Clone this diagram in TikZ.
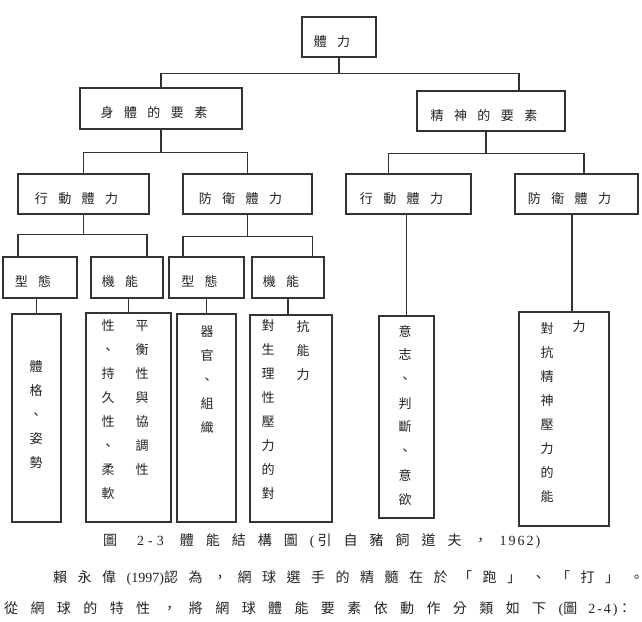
\documentclass[tikz,border=0pt]{standalone}
\usepackage{fontspec}
\setmainfont{Liberation Serif}
\newfontfamily\cjk{Noto Sans CJK TC}
\usetikzlibrary{positioning,calc}
\def\wLine{1.1pt}
\definecolor{cInk}{HTML}{333333}
\definecolor{cText}{HTML}{222222}
\makeatletter
\newcommand{\spaced}[2]{\@tfor\spch:=#2\do{\spch\kern#1}}
\makeatother
\newcommand{\zh}[2][11pt]{{\cjk\spaced{#1}{#2}}}
\newcommand{\lat}[2][2pt]{{\spaced{#1}{#2}}}
\tikzset{
  box/.style={draw=cInk, line width=\wLine, fill=white, inner sep=0pt,
    font=\cjk\addfontfeature{LetterSpace=80}\fontsize{13}{13}\selectfont, text=cText,
    text height=20pt, text depth=2pt, execute at end node=\hspace*{14pt}},
  head/.style={box, minimum height=40pt},
  leaf/.style={draw=cInk, line width=\wLine, fill=white, inner sep=0pt},
  vcol/.style={font=\cjk\fontsize{13}{24}\selectfont, text=cText, align=center, inner sep=0pt},
  link/.style={draw=cInk, line width=\wLine},
  capt/.style={font=\rmfamily\fontsize{14}{14}\selectfont, text=cText, anchor=west, inner sep=0pt},
}

\begin{document}
\begin{tikzpicture}[x=1pt, y=-1pt]
\useasboundingbox (0,0) rectangle (642,621);
% top of the tree and the two kinds of elements
\node[head, minimum width=74pt] (strength) at (339,37) {體力};
\node[head, minimum width=162pt, minimum height=41pt] (body) at (161,108.5) {身體的要素};
\node[head, minimum width=148pt] (spirit) at (491,111) {精神的要素};
% action / defence strength
\node[head, minimum width=131pt] (act1) at (83.5,194) {行動體力};
\node[head, minimum width=129pt] (def1) at (247.5,194) {防衛體力};
\node[head, minimum width=125pt] (act2) at (408.5,194) {行動體力};
\node[head, minimum width=123pt] (def2) at (576.5,194) {防衛體力};
% form / function
\node[head, minimum width=74pt, minimum height=41pt] (form1) at (40,277.5) {型態};
\node[head, minimum width=72pt, minimum height=41pt] (func1) at (127,277.5) {機能};
\node[head, minimum width=75pt, minimum height=41pt] (form2) at (206.5,277.5) {型態};
\node[head, minimum width=72pt, minimum height=41pt] (func2) at (288,277.5) {機能};
% leaves
\node[leaf, minimum width=49pt, minimum height=208pt] (leaf1) at (36.5,418) {};
\node[leaf, minimum width=85pt, minimum height=209pt] (leaf2) at (128.5,417.5) {};
\node[leaf, minimum width=59pt, minimum height=208pt] (leaf3) at (206.5,418) {};
\node[leaf, minimum width=82pt, minimum height=207pt] (leaf4) at (291,418.5) {};
\node[leaf, minimum width=55pt, minimum height=202pt] (leaf5) at (406.5,417) {};
\node[leaf, minimum width=90pt, minimum height=214pt] (leaf6) at (564,419) {};
% vertical texts
\node[vcol] (t1) at (36,415) {體\\格\\、\\姿\\勢};
\node[vcol] (t2a) at (108,410) {性\\、\\持\\久\\性\\、\\柔\\軟};
\node[vcol] (t2b) at (142,398) {平\\衡\\性\\與\\協\\調\\性};
\node[vcol] (t3) at (207,380) {器\\官\\、\\組\\織};
\node[vcol] (t4a) at (268,410) {對\\生\\理\\性\\壓\\力\\的\\對};
\node[vcol] (t4b) at (303,351) {抗\\能\\力};
\node[vcol] (t5) at (405,415) {意\\志\\、\\判\\斷\\、\\意\\欲};
\node[vcol] (t6a) at (547,413) {對\\抗\\精\\神\\壓\\力\\的\\能};
\node[vcol] (t6b) at (579,327) {力};
% connectors
\draw[link] (strength.south) -- ++(0,16) coordinate (busTop);
\draw[link] (body.north) |- (busTop) -| ([xshift=28pt]spirit.north);
\draw[link] (body.south) -- ++(0,23) coordinate (busBody);
\draw[link] (act1.north) |- (busBody) -| (def1.north);
\draw[link] ([xshift=-5pt]spirit.south) -- ++(0,22) coordinate (busSpirit);
\draw[link] ([xshift=-20pt]act2.north) |- (busSpirit) -| ([xshift=7.5pt]def2.north);
\draw[link] (act1.south) -- ++(0,20) coordinate (busAct);
\draw[link] ([xshift=-22pt]form1.north) |- (busAct) -| ([xshift=20pt]func1.north);
\draw[link] (def1.south) -- ++(0,22) coordinate (busDef);
\draw[link] ([xshift=-23.5pt]form2.north) |- (busDef) -| ([xshift=24.5pt]func2.north);
\draw[link] (leaf1.north) -- (leaf1.north |- form1.south);
\draw[link] (leaf2.north) -- (leaf2.north |- func1.south);
\draw[link] (leaf3.north) -- (leaf3.north |- form2.south);
\draw[link] (func2.south) -- (func2.south |- leaf4.north);
\draw[link] (leaf5.north) -- (leaf5.north |- act2.south);
\draw[link] ([xshift=8pt]leaf6.north) -- ([xshift=8pt]leaf6.north |- def2.south);
% caption and text below
\node[capt] (caption) at (103,541) {\zh[12pt]{圖}\hspace*{8pt}\lat[4pt]{2-3}\hspace*{12pt}\zh[12pt]{體能結構圖}\lat[3pt]{(}\zh[12pt]{引自豬飼道夫，}\lat[2pt]{1962)}};
\node[capt] (line1) at (53,578) {\zh[10.5pt]{賴永偉}(1997)\zh[10.5pt]{認為，網球選手的精髓在於「跑」、「打」。}};
\node[capt] (line2) at (4,609) {\zh[12.4pt]{從網球的特性，將網球體能要素依動作分類如下}(\zh[6pt]{圖}\hspace*{5pt}\lat[2pt]{2-4})\zh[12.4pt]{：}};
\end{tikzpicture}
\end{document}
